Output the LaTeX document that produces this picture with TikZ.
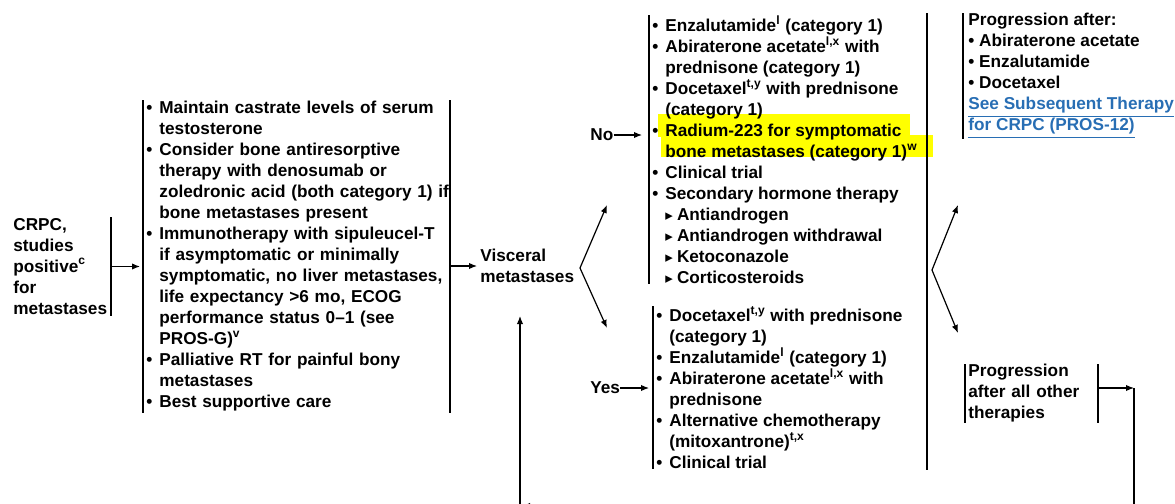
\documentclass[tikz,border=0pt]{standalone}
\usepackage{fontspec}
\setmainfont{Liberation Sans}
\newfontfamily\symfont{DejaVu Sans}
\usepackage{tikz}
\usetikzlibrary{arrows.meta}
\definecolor{hilite}{RGB}{255,255,0}
\definecolor{linkblue}{RGB}{40,110,180}
\newcommand\bul{\makebox[6.5pt][l]{\textbullet}}
\newcommand\hng{\hspace*{6.5pt}}
\newcommand\subbul{\hspace*{6.5pt}\makebox[5.8pt][l]{\symfont\fontsize{7.5}{7.5}\selectfont ▸}}
\newcommand\lnk[1]{\textcolor{linkblue}{\underline{#1}}}
\tikzset{
  blk/.style={inner sep=0pt, align=left, anchor=north west, font=\fontsize{8.6}{10.5}\selectfont\bfseries},
  arr/.style={-{Latex[length=4pt,width=3.2pt]}, line width=0.6pt},
  bar/.style={line width=0.75pt}
}
\begin{document}
\begin{tikzpicture}[x=0.5pt,y=-0.5pt]
	\useasboundingbox (0,0) rectangle (1175,504);
	\clip (0,0) rectangle (1175,504);
	\fill[hilite] (658,114) rectangle (910,137);
	\fill[hilite] (661,135) rectangle (933,157);

	\node[blk, text width=48.5pt, inner ysep=0.5pt] (crpc) at (13,217) {CRPC,\\studies\\positive\textsuperscript{c}\\for\\metastases};
	\node[blk, text width=150pt, inner xsep=1.5pt, inner ysep=0.5pt] (box2) at (143,100) {\bul Maintain castrate levels of serum\\
		\hng testosterone\\
		\bul Consider bone antiresorptive\\
		\hng therapy with denosumab or\\
		\hng \mbox{zoledronic acid (both category 1) if}\\
		\hng bone metastases present\\
		\bul Immunotherapy with sipuleucel-T\\
		\hng if asymptomatic or minimally\\
		\hng symptomatic, no liver metastases,\\
		\hng life expectancy >6 mo, ECOG\\
		\hng performance status 0--1 (see\\
		\hng PROS-G)\textsuperscript{v}\\
		\bul Palliative RT for painful bony\\
		\hng metastases\\
		\bul Best supportive care};
	\node[blk, inner xsep=1.5pt, anchor=west] (visc) at (477,266) {Visceral\\metastases};
	\node[blk, anchor=west] (no) at (590,135) {No};
	\node[blk, anchor=west] (yes) at (590,388) {Yes};
	\node[blk, inner xsep=1.5pt] (nobox) at (649,15) {\bul Enzalutamide\textsuperscript{l} (category 1)\\
		\bul Abiraterone acetate\textsuperscript{l,x} with\\
		\hng prednisone (category 1)\\
		\bul Docetaxel\textsuperscript{t,y} with prednisone\\
		\hng (category 1)\\
		\bul Radium-223 for symptomatic\\
		\hng bone metastases (category 1)\textsuperscript{w}\\
		\bul Clinical trial\\
		\bul Secondary hormone therapy\\
		\subbul Antiandrogen\\
		\subbul Antiandrogen withdrawal\\
		\subbul Ketoconazole\\
		\subbul Corticosteroids};
	\node[blk, inner xsep=1.5pt] (yesbox) at (653,306) {\bul Docetaxel\textsuperscript{t,y} with prednisone\\
		\hng (category 1)\\
		\bul Enzalutamide\textsuperscript{l} (category 1)\\
		\bul Abiraterone acetate\textsuperscript{l,x} with\\
		\hng prednisone\\
		\bul Alternative chemotherapy\\
		\hng (mitoxantrone)\textsuperscript{t,x}\\
		\bul Clinical trial};
	\node[blk, inner xsep=2.5pt] (prog1) at (963,13) {Progression after:\\
		\textbullet\ Abiraterone acetate\\
		\textbullet\ Enzalutamide\\
		\textbullet\ Docetaxel\\
		\lnk{See Subsequent Therapy}\\
		\lnk{for CRPC (PROS-12)}};
	\node[blk, text width=63pt, inner xsep=1.5pt] (prog2) at (965,364) {Progression\\after all other\\therapies};

	\draw[bar] (crpc.north east) -- (crpc.south east);
	\draw[bar] (box2.north west) -- (box2.south west);
	\draw[bar] (box2.north east) -- (box2.south east);
	\draw[bar] (nobox.north west) -- (nobox.south west);
	\draw[bar] (yesbox.north west) -- (yesbox.south west);
	\draw[bar] (927,13) -- (927,470);
	\draw[bar] (prog1.north west) -- (prog1.south west);
	\draw[bar] (prog2.north west) -- (prog2.south west);
	\draw[bar] (prog2.north east) -- (prog2.south east);

	\draw[arr, shorten >=1.5pt] (crpc.east) -- (crpc.east -| box2.west);
	\draw[arr] (box2.east |- visc.west) -- (visc.west);
	\coordinate (vb) at (580,268);
	\coordinate (vbup) at (607,205);
	\coordinate (vbdn) at (607,328);
	\draw[arr] (vb) -- (vbup);
	\draw[arr] (vb) -- (vbdn);
	\draw[arr, shorten >=3.5pt] (no.east) -- (no.east -| nobox.west);
	\draw[arr, shorten >=2pt] (yes.east) -- (yes.east -| yesbox.west);
	\coordinate (rb) at (932,270);
	\coordinate (rbup) at (958,205);
	\coordinate (rbdn) at (958,333);
	\draw[arr] (rb) -- (rbup);
	\draw[arr] (rb) -- (rbdn);
	\coordinate (lp) at (1134,388);
	\coordinate (lpb) at (522,506);
	\coordinate (lpc) at (520,506);
	\coordinate (vup) at (520,316);
	\draw[arr] (prog2.east |- lp) -- (lp);
	\draw[arr] (lp) |- (lpb);
	\draw[arr] (lpc) -- (vup);
\end{tikzpicture}
\end{document}
